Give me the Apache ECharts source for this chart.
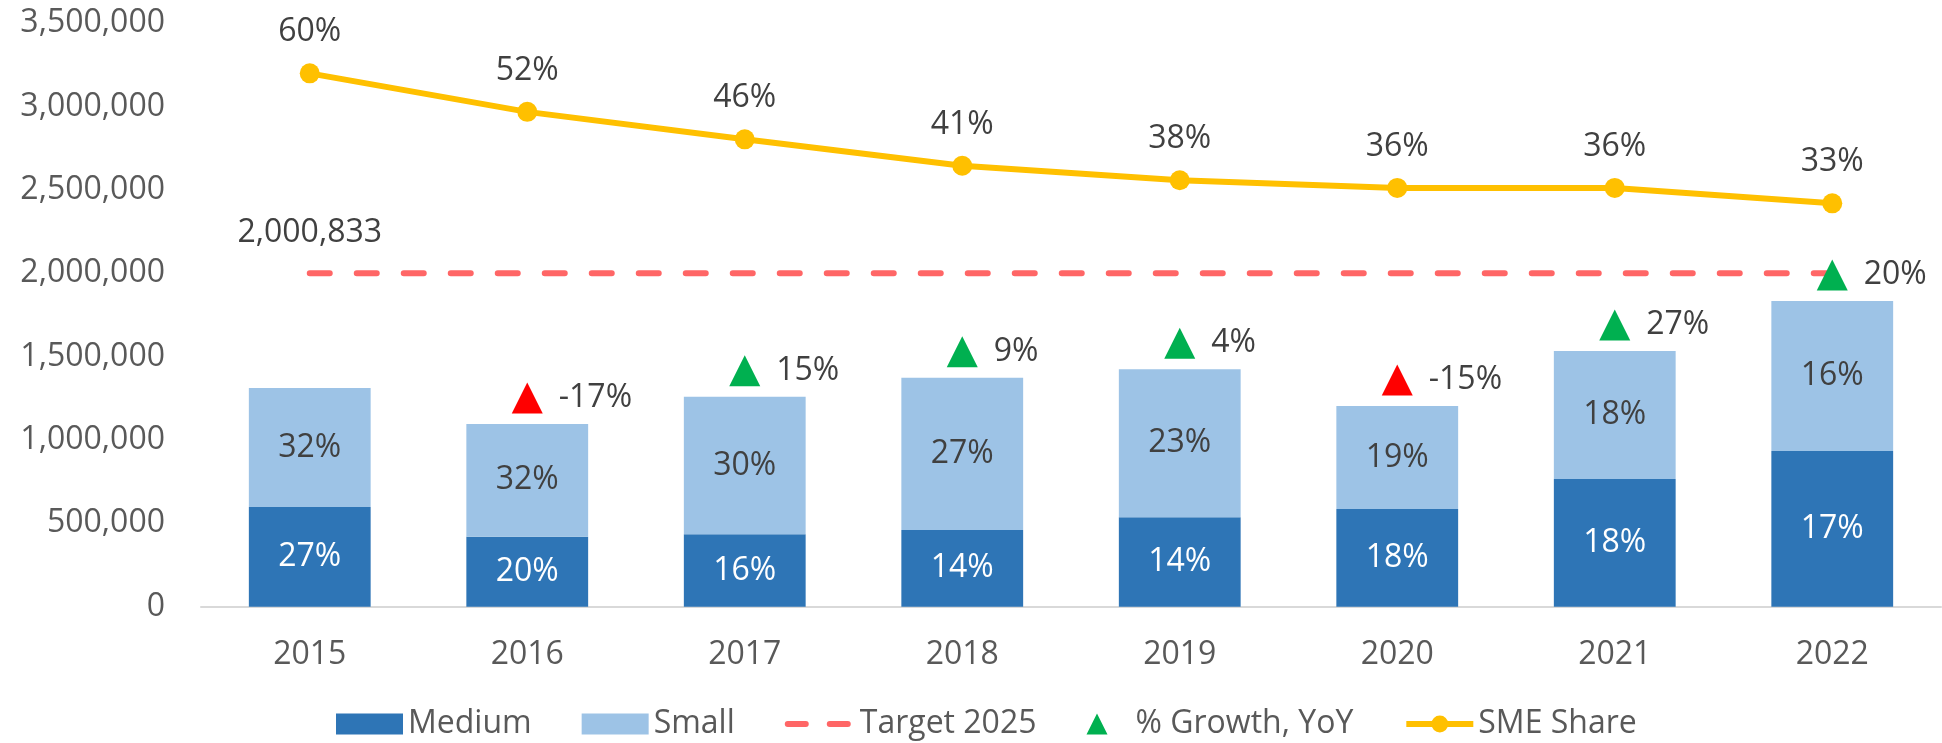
<!DOCTYPE html>
<html>
<head>
<meta charset="utf-8">
<script src="https://cdn.jsdelivr.net/npm/echarts@6/dist/echarts.min.js"></script>
<style>
  html, body { margin: 0; padding: 0; background: #fff; }
  #main { width: 1942px; height: 743px; }
</style>
</head>
<body>
<div id="main"></div>
<script>
// chart data
const years = ['2015', '2016', '2017', '2018', '2019', '2020', '2021', '2022'];
const medium = [598000, 420000, 434000, 460000, 536000, 586000, 766000, 934000];
const small = [714000, 676000, 826000, 914000, 888000, 618000, 768000, 900000];
const mediumShare = ['27%', '20%', '16%', '14%', '14%', '18%', '18%', '17%'];
const smallShare = ['32%', '32%', '30%', '27%', '23%', '19%', '18%', '16%'];
const target = [2000833, 2000833, 2000833, 2000833, 2000833, 2000833, 2000833, 2000833];
const growth = [null, -17, 15, 9, 4, -15, 27, 20];
const smeShare = [60.0, 52.0, 46.3, 40.8, 37.8, 36.2, 36.2, 33.0];
const yTicks = [0, 500000, 1000000, 1500000, 2000000, 2500000, 3000000, 3500000];

const FONT = "'Open Sans', 'Noto Sans', sans-serif";
const labelColor = '#404040';
const targetColor = '#FF6666';

const totals = medium.map((m, i) => m + small[i]);
const fmt = v => v.toString().replace(/\B(?=(\d{3})+(?!\d))/g, ',');

const chart = echarts.init(document.getElementById('main'));

chart.setOption({
  animation: false,
  textStyle: { fontFamily: FONT },
  grid: { left: 201, right: 1, top: 23.3, bottom: 136.3, containLabel: false },
  legend: {
    left: 331,
    top: 703,
    itemWidth: 67,
    itemHeight: 21,
    itemGap: 50,
    textStyle: { fontSize: 32, color: '#595959', fontFamily: FONT },
    data: [
      { name: 'Medium', icon: 'rect' },
      { name: 'Small', icon: 'rect' },
      {
        name: 'Target 2025',
        itemStyle: { color: 'rgba(0,0,0,0)', opacity: 0, borderWidth: 0 },
        lineStyle: { color: targetColor, width: 6, type: [18, 24], cap: 'round' }
      },
      { name: '% Growth, YoY', icon: 'path://M5,0L10,10L0,10Z', itemStyle: { opacity: 1 } },
      { name: 'SME Share', lineStyle: { color: '#FFC000', width: 6 } }
    ]
  },
  xAxis: {
    type: 'category',
    data: years,
    axisTick: { show: false },
    axisLine: { lineStyle: { color: '#D9D9D9', width: 2 } },
    axisLabel: { color: '#595959', fontSize: 32, margin: 32, fontFamily: FONT }
  },
  yAxis: [
    {
      type: 'value',
      min: yTicks[0],
      max: yTicks[yTicks.length - 1],
      interval: 500000,
      splitLine: { show: false },
      axisLine: { show: false },
      axisTick: { show: false },
      axisLabel: { color: '#595959', fontSize: 32, margin: 36, fontFamily: FONT, formatter: v => fmt(v) }
    },
    {
      type: 'value',
      show: false,
      min: -50.8,
      max: 70.4,
      splitLine: { show: false }
    }
  ],
  series: [
    {
      name: 'Medium',
      type: 'bar',
      stack: 'sme',
      barCategoryGap: '44%',
      itemStyle: { color: '#2E75B6' },
      label: {
        show: true, position: 'inside', color: '#fff', fontSize: 32, fontFamily: FONT,
        formatter: p => mediumShare[p.dataIndex]
      },
      data: medium
    },
    {
      name: 'Small',
      type: 'bar',
      stack: 'sme',
      itemStyle: { color: '#9DC3E6' },
      label: {
        show: true, position: 'inside', color: labelColor, fontSize: 32, fontFamily: FONT,
        formatter: p => smallShare[p.dataIndex]
      },
      data: small
    },
    {
      name: 'Target 2025',
      type: 'line',
      symbol: 'none',
      z: 3,
      itemStyle: { color: targetColor },
      lineStyle: { color: targetColor, width: 6, type: [20, 27], cap: 'round' },
      data: target
    },
    {
      // value label of the target line, first point only (not in legend)
      name: 'targetLabel',
      type: 'scatter',
      symbolSize: 0.1,
      z: 3,
      itemStyle: { color: targetColor, opacity: 1 },
      label: {
        show: true, position: 'top', distance: 24, color: labelColor, fontSize: 32, fontFamily: FONT,
        formatter: p => fmt(p.value)
      },
      data: target.map((v, i) => i === 0 ? v : null)
    },
    {
      name: '% Growth, YoY',
      type: 'scatter',
      z: 5,
      symbol: 'triangle',
      symbolSize: [31, 31],
      symbolOffset: [0, -26],
      symbolKeepAspect: true,
      itemStyle: { color: '#00B050', opacity: 1 },
      label: {
        show: true, position: 'right', distance: 16, color: labelColor, fontSize: 32, fontFamily: FONT,
        formatter: p => growth[p.dataIndex] + '%'
      },
      data: totals.map((t, i) => growth[i] === null ? null : {
        value: t,
        itemStyle: { color: growth[i] < 0 ? '#FF0000' : '#00B050', opacity: 1 }
      })
    },
    {
      name: 'SME Share',
      type: 'line',
      yAxisIndex: 1,
      z: 4,
      symbol: 'circle',
      symbolSize: 20,
      itemStyle: { color: '#FFC000' },
      lineStyle: { color: '#FFC000', width: 6 },
      label: {
        show: true, position: 'top', distance: 15, color: labelColor, fontSize: 32, fontFamily: FONT,
        formatter: p => Math.round(p.value) + '%'
      },
      data: smeShare
    }
  ]
});
</script>
</body>
</html>
